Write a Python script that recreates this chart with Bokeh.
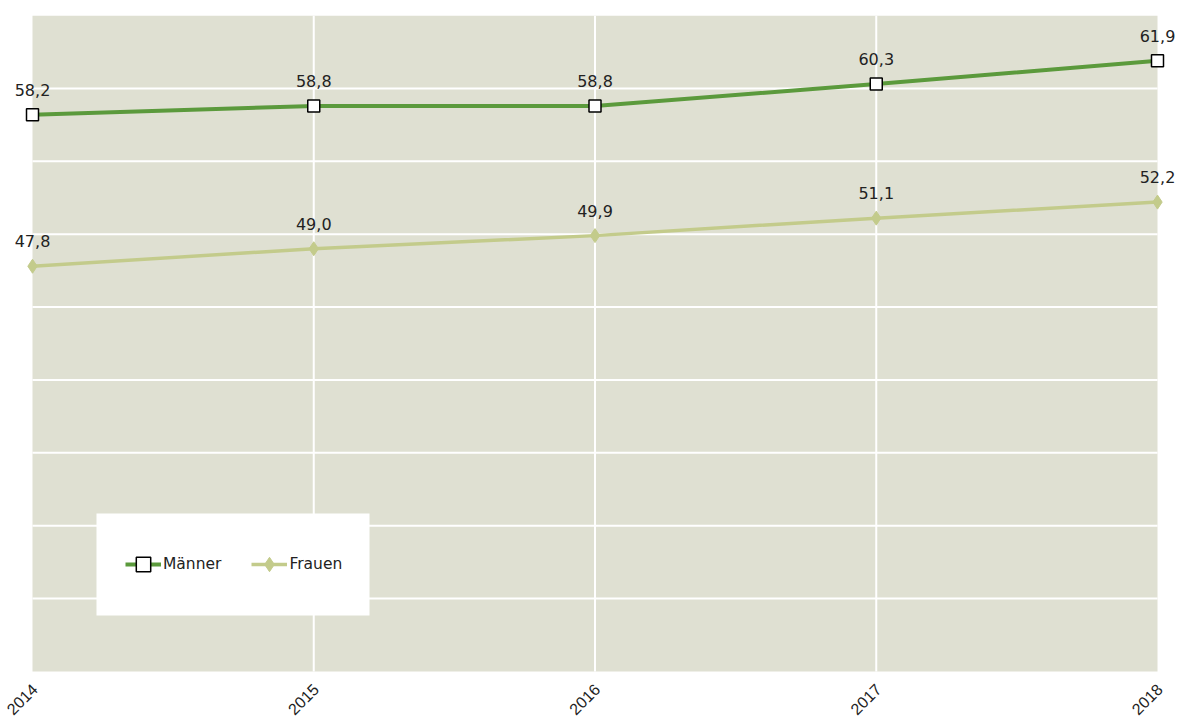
import math
from bokeh.plotting import figure
from bokeh.models import ColumnDataSource, LabelSet, Legend, Range1d, BoxAnnotation
from bokeh.core.properties import value
from bokeh.embed import file_html
from bokeh.resources import INLINE

years = [2014, 2015, 2016, 2017, 2018]
year_labels = ["2014", "2015", "2016", "2017", "2018"]
maenner = [58.2, 58.8, 58.8, 60.3, 61.9]
frauen = [47.8, 49.0, 49.9, 51.1, 52.2]
maenner_labels = ["58,2", "58,8", "58,8", "60,3", "61,9"]
frauen_labels = ["47,8", "49,0", "49,9", "51,1", "52,2"]
y_ticks = [20, 25, 30, 35, 40, 45, 50, 55, 60, 65]

FONT = "DejaVu Sans"
TICK_FONT = "Liberation Sans"
Y_MIN, Y_MAX = 20, 65
BG = "#dfe0d2"

# layout (pixels): plot area inside a frame that spans the whole canvas
W, H = 1179, 723
A_LEFT, A_TOP, A_RIGHT, A_BOTTOM = 32, 15, 1157, 671
PX_PER_YEAR = (A_RIGHT - A_LEFT) / (years[-1] - years[0])
PX_PER_UNIT = (A_BOTTOM - A_TOP) / (Y_MAX - Y_MIN)
x_lo = years[0] - A_LEFT / PX_PER_YEAR
x_hi = years[-1] + (W - A_RIGHT) / PX_PER_YEAR
y_lo = Y_MIN - (H - A_BOTTOM) / PX_PER_UNIT

p = figure(width=W, height=H, output_backend="svg", toolbar_location=None,
           x_range=Range1d(x_lo, x_hi), y_range=Range1d(y_lo, Y_MAX),
           min_border_left=0, min_border_right=0,
           min_border_top=A_TOP, min_border_bottom=0)
p.background_fill_color = "white"
p.border_fill_color = "white"
p.outline_line_color = None
p.xgrid.visible = False
p.ygrid.visible = False
p.xaxis.visible = False
p.yaxis.visible = False

# plot area background
p.add_layout(BoxAnnotation(left=years[0], right=years[-1], bottom=Y_MIN, top=Y_MAX,
                           fill_color=BG, fill_alpha=1.0, line_color=None,
                           level="underlay"))

# grid lines (interior only)
gy = y_ticks[1:-1]
p.segment(x0=[years[0]] * len(gy), x1=[years[-1]] * len(gy), y0=gy, y1=gy,
          line_color="white", line_width=2)
gx = years[1:-1]
p.segment(x0=gx, x1=gx, y0=[Y_MIN] * len(gx), y1=[Y_MAX] * len(gx),
          line_color="white", line_width=2)

src_m = ColumnDataSource(dict(x=years, y=maenner, t=maenner_labels))
src_f = ColumnDataSource(dict(x=years, y=frauen, t=frauen_labels))
src_x = ColumnDataSource(dict(x=years, y=[Y_MIN] * len(years), t=year_labels))

lf = p.line("x", "y", source=src_f, line_color="#c3cb8b", line_width=3.5)
sf = p.scatter("x", "y", source=src_f, marker="diamond", size=14,
               fill_color="#c3cb8b", line_color="#c3cb8b")
lm = p.line("x", "y", source=src_m, line_color="#5b9a3c", line_width=4)
sm = p.scatter("x", "y", source=src_m, marker="square", size=12,
               fill_color="white", line_color="black", line_width=1.5)

for src in (src_m, src_f):
    p.add_layout(LabelSet(x="x", y="y", text="t", source=src, y_offset=19,
                          text_align="center", text_baseline="alphabetic",
                          text_font=value(FONT), text_font_size=value("16px"),
                          text_color="#222222"))

# rotated year labels (x axis)
p.add_layout(LabelSet(x="x", y="y", text="t", source=src_x, x_offset=2, y_offset=-15,
                      angle=math.pi / 4, text_align="right", text_baseline="middle",
                      text_font=value(TICK_FONT), text_font_size=value("16px"),
                      text_color="#222222"))

# legend white box
def px_to_x(px):
    return x_lo + px / PX_PER_YEAR

def px_to_y(py):
    return Y_MAX - (py - A_TOP) / PX_PER_UNIT

p.add_layout(BoxAnnotation(left=px_to_x(96), right=px_to_x(369), top=px_to_y(513),
                           bottom=px_to_y(615), fill_color="white", fill_alpha=1.0,
                           line_color=None))

legend = Legend(items=[("Männer", [lm, sm]), ("Frauen", [lf, sf])],
                orientation="horizontal", location=(125, H - 615),
                padding=0, spacing=30, glyph_width=36, glyph_height=102,
                label_height=102, label_standoff=2,
                label_text_font=FONT, label_text_font_size="15.5px",
                label_text_color="#222222",
                border_line_color=None, background_fill_alpha=0.0)
p.add_layout(legend, "center")

open("out.html", "w").write(file_html(p, INLINE))
